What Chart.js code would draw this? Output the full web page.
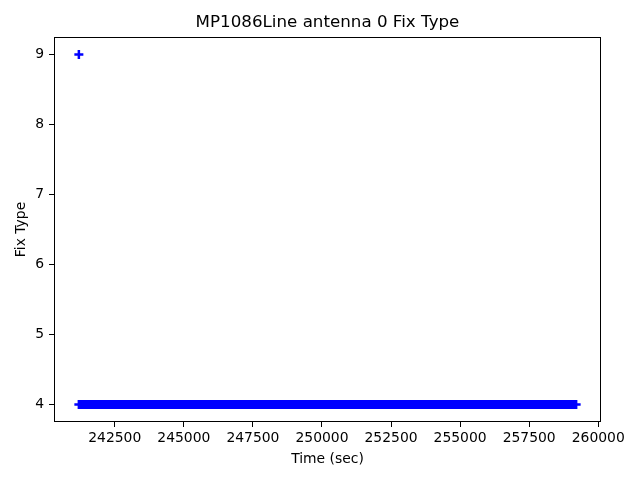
<!DOCTYPE html>
<html>
<head>
<meta charset="utf-8">
<title>MP1086Line antenna 0 Fix Type</title>
<script src="https://cdn.jsdelivr.net/npm/chart.js@4/dist/chart.umd.min.js"></script>
<style>
  html, body { margin: 0; padding: 0; background: #fff; }
  #wrap { width: 640px; height: 480px; }
</style>
</head>
<body>
<div id="wrap"><canvas id="fixChart" width="640" height="480"></canvas></div>
<script>
// --- DATA ---
const chartTitle = 'MP1086Line antenna 0 Fix Type';

// single sample with fix type 9 at the start of the log
const spikeTimes = [241200];
const spikeFix = [9];

// fix type 4 held for the whole run (start / end of the dense band)
const bandTimes = [241200, 259200];
const bandFix = [4, 4];

const xTicks = [242500, 245000, 247500, 250000, 252500, 255000, 257500, 260000];
const yTicks = [4, 5, 6, 7, 8, 9];

// --- HELPERS ---
const FONT = 'DejaVu Sans';
const BLUE = '#0000ff';

function toPoints(xs, ys) {
    return xs.map((x, i) => ({ x: x, y: ys[i] }));
}

// frame + title drawn like matplotlib (title centered on the axes, not the canvas)
const framePlugin = {
    id: 'frame',
    afterDraw(chart) {
        const { ctx, chartArea } = chart;
        ctx.save();
        ctx.strokeStyle = '#000';
        ctx.lineWidth = 1;
        ctx.strokeRect(Math.round(chartArea.left) + 0.5, Math.round(chartArea.top) + 0.5,
            Math.round(chartArea.right - chartArea.left) - 1, Math.round(chartArea.bottom - chartArea.top) - 1);
        ctx.fillStyle = '#000';
        ctx.font = '16.7px "' + FONT + '"';
        ctx.textAlign = 'center';
        ctx.textBaseline = 'middle';
        ctx.fillText(chartTitle, (chartArea.left + chartArea.right) / 2, 23);
        ctx.restore();
    }
};

// --- CHART ---
const ctx = document.getElementById('fixChart').getContext('2d');

new Chart(ctx, {
    type: 'scatter',
    data: {
        datasets: [
            {
                label: 'Fix Type',
                data: toPoints(bandTimes, bandFix),
                showLine: true,
                borderColor: BLUE,
                borderWidth: 9,
                borderCapStyle: 'butt',
                pointStyle: 'cross',
                pointRadius: 4.5,
                pointBorderWidth: 2.5,
                pointBorderColor: BLUE,
                pointBackgroundColor: BLUE
            },
            {
                label: 'Fix Type spike',
                data: toPoints(spikeTimes, spikeFix),
                showLine: false,
                pointStyle: 'cross',
                pointRadius: 4.5,
                pointBorderWidth: 2.5,
                pointBorderColor: BLUE,
                pointBackgroundColor: BLUE
            }
        ]
    },
    options: {
        responsive: false,
        animation: false,
        layout: {
            padding: { left: 0, right: 39, top: 37, bottom: 0 }
        },
        plugins: {
            legend: { display: false },
            title: { display: false },
            tooltip: { enabled: false }
        },
        scales: {
            x: {
                type: 'linear',
                min: 240300,
                max: 260100,
                afterBuildTicks: (axis) => { axis.ticks = xTicks.map(v => ({ value: v })); },
                afterFit: (scale) => { scale.height = 58; },
                border: { display: false },
                grid: {
                    drawOnChartArea: false,
                    drawTicks: true,
                    tickLength: 5,
                    color: '#000',
                    lineWidth: 1
                },
                ticks: {
                    color: '#000',
                    padding: 3,
                    maxRotation: 0,
                    autoSkip: false,
                    font: { family: FONT, size: 13.9 },
                    callback: (v) => String(v)
                },
                title: {
                    display: true,
                    text: 'Time (sec)',
                    color: '#000',
                    font: { family: FONT, size: 13.9 },
                    // bottom axis: chart.js offsets the title by padding.bottom
                    padding: { top: 0, bottom: 12 }
                }
            },
            y: {
                type: 'linear',
                min: 3.75,
                max: 9.25,
                afterBuildTicks: (axis) => { axis.ticks = yTicks.map(v => ({ value: v })); },
                afterFit: (scale) => { scale.width = 54; },
                border: { display: false },
                grid: {
                    drawOnChartArea: false,
                    drawTicks: true,
                    tickLength: 5,
                    color: '#000',
                    lineWidth: 1
                },
                ticks: {
                    color: '#000',
                    padding: 5,
                    autoSkip: false,
                    font: { family: FONT, size: 13.9 },
                    callback: (v) => String(v)
                },
                title: {
                    display: true,
                    text: 'Fix Type',
                    color: '#000',
                    font: { family: FONT, size: 13.9 },
                    padding: { top: 13.5, bottom: 0 }
                }
            }
        }
    },
    plugins: [framePlugin]
});
</script>
</body>
</html>
